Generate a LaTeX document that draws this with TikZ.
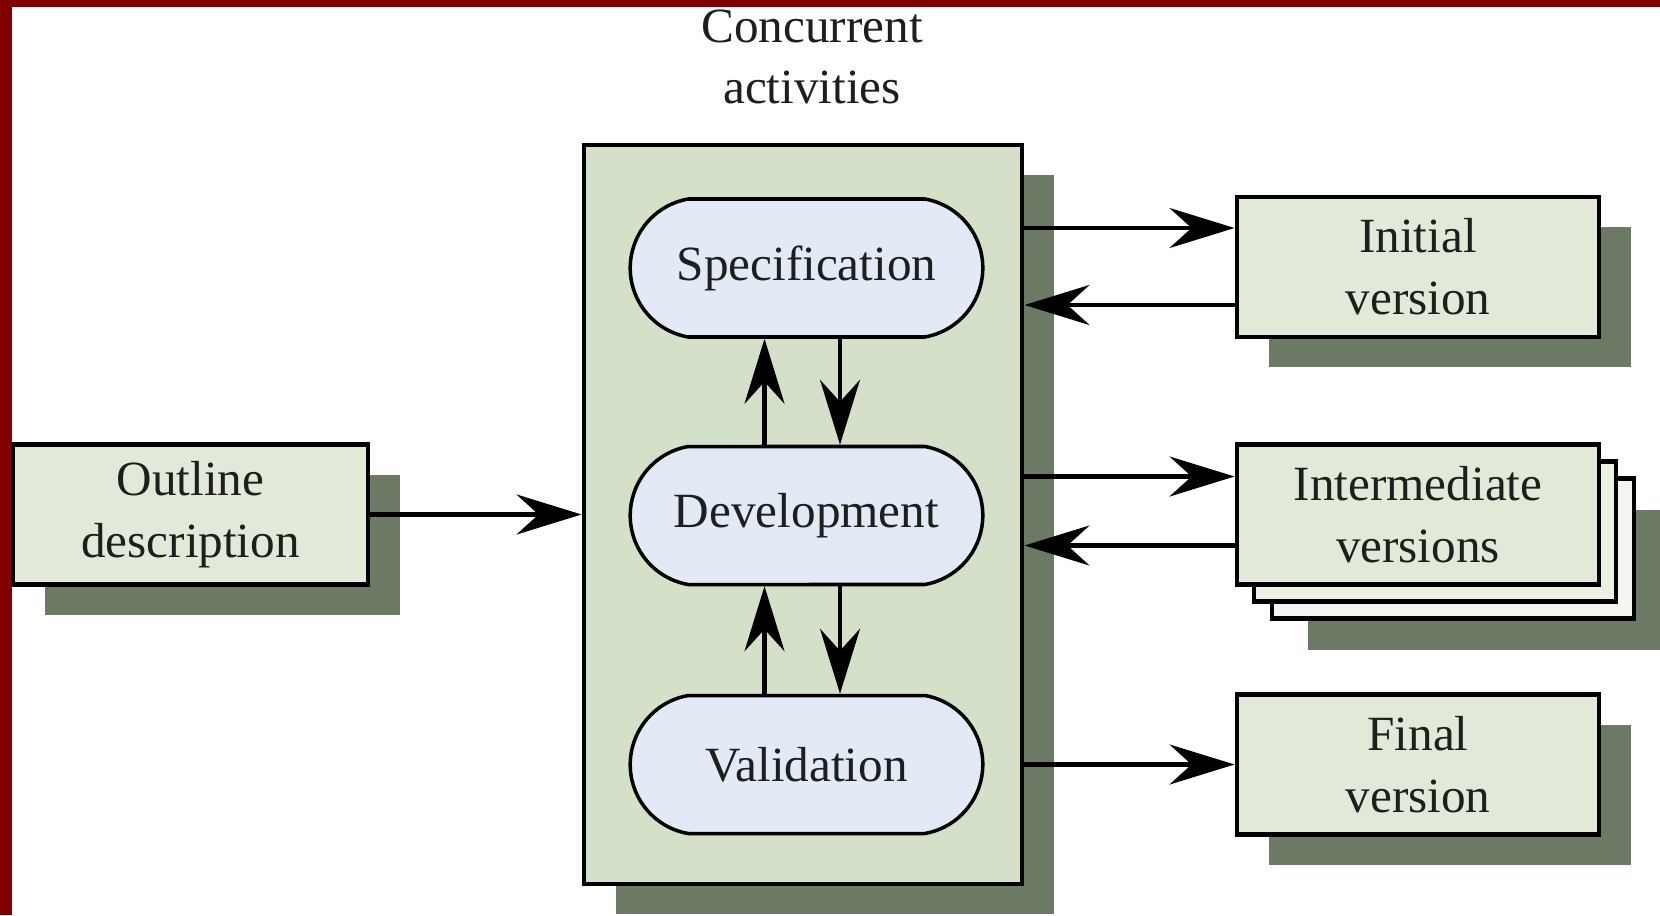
\documentclass[tikz,border=0pt]{standalone}
\usepackage{fontspec}
\setmainfont{Liberation Serif}
\definecolor{pmred}{RGB}{128,0,0}
\definecolor{pmshade}{RGB}{108,121,100}
\definecolor{pmsage}{RGB}{212,225,200}
\definecolor{pmpale}{RGB}{225,233,217}
\definecolor{pmblue}{RGB}{226,234,246}
\definecolor{pmink}{RGB}{30,30,30}
\usetikzlibrary{arrows.meta,positioning,calc,shapes.misc,shadows}

\begin{document}
\begin{tikzpicture}[font=\fontsize{14}{17.6}\selectfont,text=pmink,
  dropshade/.style={drop shadow={shadow xshift=0.32cm,shadow yshift=-0.3cm,fill=pmshade,opacity=1}},
  docbox/.style={draw=black,line width=1.4pt,fill=pmpale,minimum width=3.62cm,minimum height=1.4cm,align=center},
  activity/.style={rounded rectangle,rounded rectangle arc length=160,draw=black,line width=1pt,fill=pmblue,minimum width=3.76cm,minimum height=1.38cm},
  flowarrow/.style={line width=1.2pt,-{Stealth[length=6.5mm,width=4mm,inset=2.2mm]}}]
  \useasboundingbox (0,0) rectangle (16.6,-9.15);
  \fill[white] (0,0) rectangle (16.6,-9.15);
  \fill[pmred] (0,0) rectangle (16.6,-0.075);
  \fill[pmred] (0,0) rectangle (0.115,-9.15);
  \node[align=center] (lbl) at (8.12,-0.57) {Concurrent\\activities};
  \node[draw=black,line width=1.4pt,fill=pmsage,minimum width=4.38cm,minimum height=7.39cm,dropshade] (conc) at (8.03,-5.145) {};
  \node[activity] (spec) at (8.065,-2.68) {Specification};
  \node[activity] (dev) at (8.065,-5.155) {Development};
  \node[activity] (val) at (8.065,-7.645) {Validation};
  \draw[flowarrow] ([xshift=-0.42cm]dev.north) -- ([xshift=-0.42cm]spec.south);
  \draw[flowarrow] ([xshift=0.335cm]spec.south) -- ([xshift=0.335cm]dev.north);
  \draw[flowarrow] ([xshift=-0.42cm]val.north) -- ([xshift=-0.42cm]dev.south);
  \draw[flowarrow] ([xshift=0.335cm]dev.south) -- ([xshift=0.335cm]val.north);
  \node[docbox,minimum width=3.55cm,dropshade] (outline) at (1.905,-5.145) {Outline\\description};
  \node[docbox,dropshade] (init) at (14.18,-2.67) {Initial\\version};
  \node[docbox,
    drop shadow={shadow xshift=0.71cm,shadow yshift=-0.65cm,fill=pmshade,opacity=1},
    copy shadow={shadow xshift=0.35cm,shadow yshift=-0.34cm,draw=black,fill=pmpale!40,line width=1.4pt},
    copy shadow={shadow xshift=0.17cm,shadow yshift=-0.17cm,draw=black,fill=pmpale!70,line width=1.4pt}]
    (inter) at (14.18,-5.145) {Intermediate\\versions};
  \node[docbox,dropshade] (final) at (14.18,-7.645) {Final\\version};
  \draw[flowarrow] (outline) -- (conc);
  \draw[flowarrow] ($(conc.east |- init)+(0,0.39)$) -- ($(init.west)+(0,0.39)$);
  \draw[flowarrow] ($(init.west)+(0,-0.38)$) -- ($(conc.east |- init)+(0,-0.38)$);
  \draw[flowarrow] ($(conc.east |- inter)+(0,0.38)$) -- ($(inter.west)+(0,0.38)$);
  \draw[flowarrow] ($(inter.west)+(0,-0.31)$) -- ($(conc.east |- inter)+(0,-0.31)$);
  \draw[flowarrow] (conc.east |- final) -- (final);
\end{tikzpicture}
\end{document}
